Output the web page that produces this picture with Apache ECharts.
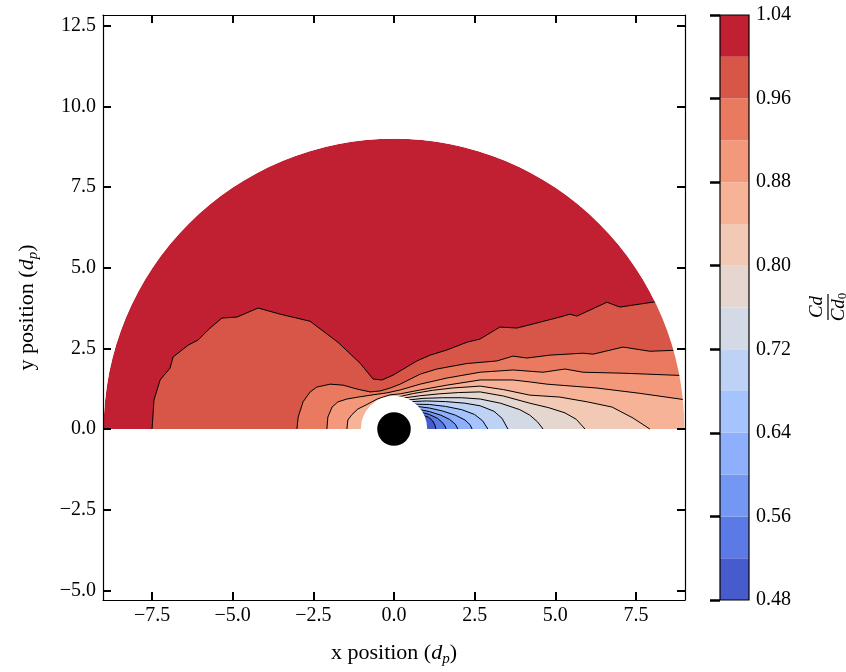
<!DOCTYPE html>
<html><head><meta charset="utf-8">
<script src="https://cdn.jsdelivr.net/npm/echarts@6/dist/echarts.min.js"></script>
<style>html,body{margin:0;padding:0;background:#fff}#c{width:846px;height:672px}</style>
</head><body><div id="c"></div>
<script>
// ---- colour levels (Cd/Cd0) ----
const LEVELS = [0.48,0.52,0.56,0.60,0.64,0.68,0.72,0.76,0.80,0.84,0.88,0.92,0.96,1.00,1.04];
const BAND_COLORS = ['#465bcc','#5b7ae5','#7497f4','#8dafFc','#a5c3fd','#bed2f6','#d3d9e5','#e5d6cf','#f2c9b4','#f6b397','#f3987b','#e97a60','#d85647','#c02031'];
const X_TICKS = [-7.5,-5,-2.5,0,2.5,5,7.5];
const Y_TICKS = [-5,-2.5,0,2.5,5,7.5,10,12.5];
const CBAR_TICKS = [0.48,0.56,0.64,0.72,0.80,0.88,0.96,1.04];
const DOMAIN_R = 9, HOLE_R = 1.03, PARTICLE_R = 0.52;

// ---- contour lines (x, y in d_p) ----
const C100 = [[-7.50,0],[-7.44,0.90],[-7.25,1.52],[-6.94,1.89],[-6.85,2.23],[-6.38,2.60],[-6.07,2.76],[-5.70,3.13],[-5.33,3.44],[-4.87,3.47],[-4.21,3.75],[-3.53,3.56],[-2.60,3.34],[-1.74,2.69],[-1.05,2.04],[-0.65,1.55],[-0.37,1.52],[-0.03,1.67],[0.19,1.80],[0.71,2.11],[1.12,2.29],[1.64,2.45],[2.26,2.69],[2.67,2.79],[3.28,3.16],[3.81,3.13],[4.52,3.31],[5.14,3.47],[5.45,3.56],[5.67,3.50],[6.60,3.93],[7.00,3.78],[8.14,3.95]];
const C096 = [[-3.01,0],[-2.97,0.37],[-2.82,0.84],[-2.60,1.15],[-2.39,1.30],[-1.98,1.39],[-1.58,1.36],[-1.15,1.24],[-0.74,1.15],[-0.43,1.18],[-0.12,1.27],[0.19,1.39],[0.81,1.70],[1.33,1.86],[2.26,2.03],[3.19,2.11],[3.69,2.26],[4.12,2.20],[4.83,2.29],[5.86,2.35],[6.17,2.32],[7.10,2.54],[7.93,2.41],[8.72,2.44]];
const C092 = [[-2.08,0],[-2.05,0.37],[-1.92,0.68],[-1.74,0.84],[-1.46,0.93],[-1.05,1.00],[-0.65,1.06],[-0.22,1.12],[0.19,1.21],[0.81,1.39],[1.64,1.58],[2.67,1.76],[3.69,1.83],[4.62,1.76],[5.30,1.86],[5.86,1.76],[7.10,1.73],[8.90,1.66]];
const C088 = [[-1.46,0],[-1.43,0.28],[-1.30,0.45],[-1.12,0.62],[-0.84,0.76],[-0.52,0.93],[-0.12,1.06],[0.19,1.09],[0.81,1.21],[1.64,1.36],[2.67,1.52],[3.69,1.52],[4.21,1.46],[4.74,1.39],[6.29,1.27],[7.59,1.11],[9.00,0.91]];
const C084 = [[0.15,1.00],[0.60,1.10],[1.20,1.20],[1.80,1.27],[2.67,1.33],[3.40,1.22],[4.21,1.05],[5.14,0.99],[6.00,0.84],[6.76,0.68],[7.41,0.34],[7.93,0]];
const C080 = [[0.30,0.96],[0.80,1.03],[1.40,1.09],[2.00,1.13],[2.67,1.15],[3.40,1.02],[4.21,0.80],[4.80,0.66],[5.30,0.50],[5.65,0.30],[5.92,0]];
const C076 = [[0.45,0.90],[0.90,0.95],[1.50,0.97],[2.10,0.97],[2.67,0.93],[3.30,0.80],[3.90,0.60],[4.21,0.43],[4.45,0.22],[4.62,0]];
const C072 = [[0.55,0.85],[1.00,0.87],[1.60,0.85],[2.20,0.80],[2.67,0.72],[3.10,0.55],[3.35,0.33],[3.53,0]];
const C068 = [[0.65,0.77],[1.10,0.76],[1.60,0.70],[2.10,0.60],[2.50,0.45],[2.75,0.25],[2.91,0]];
const C064 = [[0.72,0.70],[1.10,0.65],[1.50,0.56],[1.90,0.43],[2.20,0.28],[2.36,0.13],[2.42,0]];
const C060 = [[0.80,0.60],[1.10,0.54],[1.45,0.43],[1.72,0.30],[1.90,0.15],[1.98,0]];
const C056 = [[0.85,0.52],[1.10,0.45],[1.35,0.33],[1.50,0.20],[1.58,0.09],[1.61,0]];
const C052 = [[0.90,0.43],[1.08,0.36],[1.20,0.25],[1.27,0.12],[1.30,0]];

const CONTOUR_LEVELS = [1.00,0.96,0.92,0.88,0.84,0.80,0.76,0.72,0.68,0.64,0.60,0.56,0.52];
const CONTOUR_LINES = [C100,C096,C092,C088,C084,C080,C076,C072,C068,C064,C060,C056,C052];

const FONT = '"Liberation Serif","Times New Roman",serif';
const fmt1 = v => (v < 0 ? '\u2212' : '') + Math.abs(v).toFixed(1);
const bandIndexBelow = L => LEVELS.findIndex(v => Math.abs(v - L) < 1e-9) - 1;

function fillRender(params, api) {
  const k = api.value(0);
  if (k < 0) {
    const c = api.coord([0, 0]);
    const r = api.size([DOMAIN_R, 0])[0];
    return {type:'sector', shape:{cx:c[0], cy:c[1], r0:0, r:r, startAngle:Math.PI, endAngle:2*Math.PI, clockwise:true}, style:{fill:BAND_COLORS[BAND_COLORS.length-1]}};
  }
  const line = CONTOUR_LINES[k];
  const pts = line.map(p => api.coord(p));
  const last = line[line.length - 1];
  if (last[1] > 0) {
    pts.push(api.coord([last[0]*1.6, last[1]*1.6]));
    pts.push(api.coord([16, 0]));
  } else {
    pts.push(api.coord([0, 0]));
  }
  return {type:'polygon', shape:{points:pts}, style:{fill:BAND_COLORS[bandIndexBelow(CONTOUR_LEVELS[k])]}};
}

function overlayRender(params, api) {
  const k = api.value(0);
  const c = api.coord([0, 0]);
  if (k === 0) {
    return {type:'sector', shape:{cx:c[0], cy:c[1], r0:api.size([DOMAIN_R,0])[0], r:2000, startAngle:Math.PI, endAngle:2*Math.PI, clockwise:true}, style:{fill:'#fff'}};
  }
  if (k === 1) return {type:'circle', shape:{cx:c[0], cy:c[1], r:api.size([HOLE_R,0])[0]}, style:{fill:'#fff'}};
  return {type:'circle', shape:{cx:c[0], cy:c[1], r:api.size([PARTICLE_R,0])[0]}, style:{fill:'#000'}};
}

function cbarRender(params, api) {
  const k = api.value(0);
  if (k < BAND_COLORS.length) {
    const a = api.coord([0, LEVELS[k+1]]);
    const b = api.coord([1, LEVELS[k]]);
    return {type:'rect', shape:{x:a[0], y:a[1], width:b[0]-a[0], height:b[1]-a[1]}, style:{fill:BAND_COLORS[k]}};
  }
  const a = api.coord([0, LEVELS[LEVELS.length-1]]);
  const b = api.coord([1, LEVELS[0]]);
  return {type:'rect', shape:{x:a[0], y:a[1], width:b[0]-a[0], height:b[1]-a[1]}, style:{fill:null, stroke:'#000', lineWidth:1.2}};
}

const tickStyle = {show:true, inside:true, length:8, lineStyle:{color:'#000', width:2}};
const lineStyleAx = {show:true, onZero:false, lineStyle:{color:'#000', width:1.2}};
const labelStyle = {color:'#000', fontFamily:FONT, fontSize:20};
const richName = {
  r:{fontFamily:FONT, fontSize:22, color:'#000'},
  i:{fontFamily:FONT, fontSize:22, fontStyle:'italic', color:'#000'},
  s:{fontFamily:FONT, fontSize:15, fontStyle:'italic', color:'#000', padding:[12,0,0,0]}
};

const XMIN = -9.02, XMAX = 9.02, YMIN = -5.30, YMAX = 12.833;

const series = [
  {type:'custom', xAxisIndex:0, yAxisIndex:0, z:2, clip:true, silent:true,
   data:[[-1]].concat(CONTOUR_LINES.map((_, i) => [i])), renderItem:fillRender}
];
CONTOUR_LINES.forEach(line => {
  series.push({type:'line', xAxisIndex:0, yAxisIndex:0, z:3, data:line, showSymbol:false, symbol:'none', silent:true, clip:true,
    lineStyle:{color:'#000', width:1}});
});
series.push({type:'custom', xAxisIndex:0, yAxisIndex:0, z:4, clip:true, silent:true, data:[[0],[1],[2]], renderItem:overlayRender});
series.push({type:'custom', xAxisIndex:2, yAxisIndex:2, z:2, silent:true,
  data:BAND_COLORS.map((_, i) => [i]).concat([[BAND_COLORS.length]]), renderItem:cbarRender});

const option = {
  animation:false,
  backgroundColor:'#fff',
  grid:[
    {left:103, right:161, top:15, bottom:72},
    {left:720, right:97, top:15, bottom:72}
  ],
  xAxis:[
    {type:'value', gridIndex:0, position:'bottom', min:XMIN, max:XMAX, z:10,
     axisLine:lineStyleAx, splitLine:{show:false},
     axisTick:Object.assign({customValues:X_TICKS}, tickStyle),
     axisLabel:Object.assign({customValues:X_TICKS, formatter:fmt1, margin:6}, labelStyle),
     name:'{r|x position (}{i|d}{s|p}{r|)}', nameLocation:'middle', nameGap:40,
     nameTextStyle:{rich:richName}},
    {type:'value', gridIndex:0, position:'top', min:XMIN, max:XMAX, z:10,
     axisLine:lineStyleAx, splitLine:{show:false},
     axisTick:Object.assign({customValues:X_TICKS}, tickStyle),
     axisLabel:{show:false}},
    {type:'value', gridIndex:1, min:0, max:1, show:false}
  ],
  yAxis:[
    {type:'value', gridIndex:0, position:'left', min:YMIN, max:YMAX, z:10,
     axisLine:lineStyleAx, splitLine:{show:false},
     axisTick:Object.assign({customValues:Y_TICKS}, tickStyle),
     axisLabel:Object.assign({customValues:Y_TICKS, formatter:fmt1, margin:7}, labelStyle),
     name:'{r|y position (}{i|d}{s|p}{r|)}', nameLocation:'middle', nameGap:62, nameRotate:90,
     nameTextStyle:{rich:richName}},
    {type:'value', gridIndex:0, position:'right', min:YMIN, max:YMAX, z:10,
     axisLine:lineStyleAx, splitLine:{show:false},
     axisTick:Object.assign({customValues:Y_TICKS}, tickStyle),
     axisLabel:{show:false}},
    {type:'value', gridIndex:1, position:'right', min:0.48, max:1.04, z:10,
     axisLine:{show:false}, splitLine:{show:false},
     axisTick:{show:true, inside:true, length:10, customValues:CBAR_TICKS, lineStyle:{color:'#000', width:2.5}},
     axisLabel:Object.assign({customValues:CBAR_TICKS, formatter:v => v.toFixed(2), margin:7}, labelStyle)}
  ],
  graphic:[{
    type:'group', x:828, y:307, rotation:Math.PI/2,
    children:[
      {type:'text', x:0, y:-11, style:{text:'Cd', fontFamily:FONT, fontStyle:'italic', fontSize:19, fill:'#000', align:'center', verticalAlign:'middle'}},
      {type:'line', shape:{x1:-13, y1:0, x2:13, y2:0}, style:{stroke:'#000', lineWidth:1.2}},
      {type:'text', x:0, y:11, style:{text:'{a|Cd}{b|0}', fontFamily:FONT, fontSize:19, align:'center', verticalAlign:'middle',
        rich:{a:{fontFamily:FONT, fontStyle:'italic', fontSize:19, fill:'#000'}, b:{fontFamily:FONT, fontSize:13, fill:'#000', padding:[8,0,0,0]}}}}
    ]
  }],
  series:series
};

const chart = echarts.init(document.getElementById('c'), null, {renderer:'canvas'});
chart.setOption(option);
</script>
</body></html>
